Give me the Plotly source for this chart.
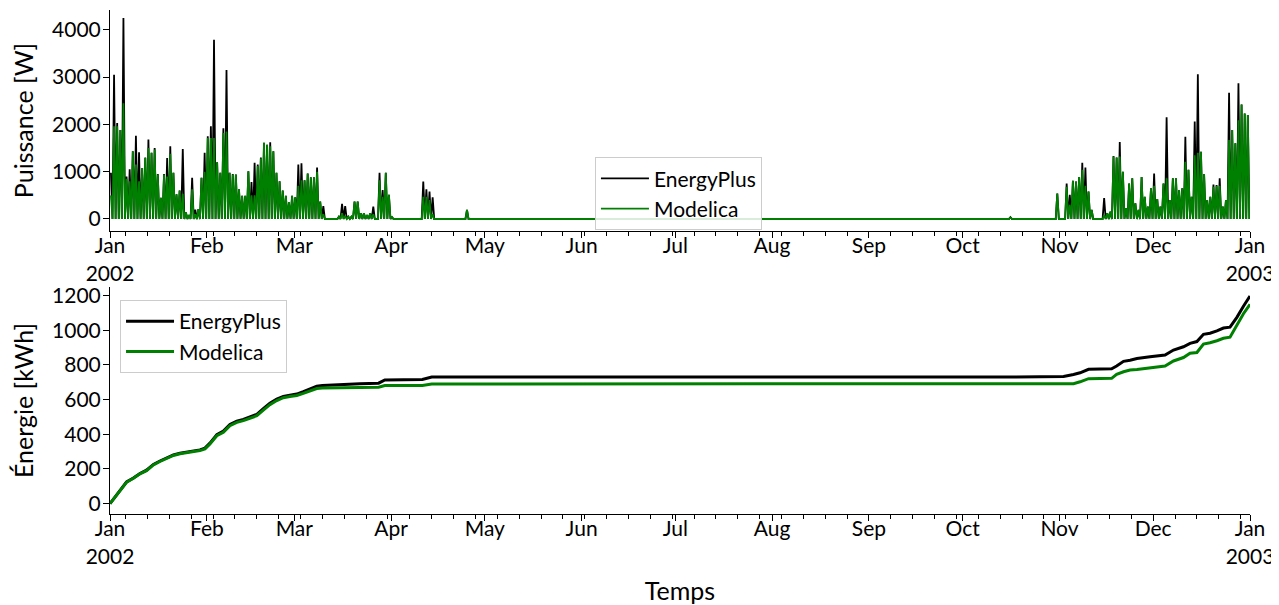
import pandas as pd
import plotly.graph_objects as go
from plotly.subplots import make_subplots

START = pd.Timestamp("2002-01-01")

# ---- heating power: daily peak values [W] ----
# winter season: one value per day from Jan 1 (day 0) to Apr 25 (day 114)
winter_first_day = 0
ep_peak_winter = [
    980, 3050, 2030, 1880, 4250, 900, 1050, 1430, 1760, 1410,
    1080, 1300, 1680, 1400, 1500, 950, 450, 950, 1290, 1540,
    980, 520, 600, 1480, 140, 80, 870, 200, 210, 870,
    1400, 1750, 1960, 3790, 1200, 980, 1920, 3150, 980, 950,
    940, 630, 490, 490, 1010, 780, 1190, 1150, 1300, 1610,
    1570, 1620, 1430, 980, 800, 600, 490, 350, 490, 460,
    1150, 1180, 820, 960, 880, 880, 1090, 370, 275, 0,
    0, 0, 0, 50, 320, 275, 50, 50, 370, 370,
    120, 120, 80, 120, 260, 0, 980, 610, 980, 510,
    40, 0, 0, 0, 0, 0, 0, 0, 0, 0,
    790, 630, 580, 460, 0, 0, 0, 0, 0, 0,
    0, 0, 0, 0, 190,
]
mo_peak_winter = [
    500, 1960, 1960, 1880, 2450, 850, 800, 1430, 1150, 800,
    1080, 1290, 1500, 1400, 1470, 940, 450, 940, 900, 1380,
    980, 520, 600, 530, 140, 80, 630, 100, 210, 870,
    1000, 1710, 1710, 1710, 1200, 980, 1820, 1850, 980, 940,
    940, 630, 490, 490, 1010, 500, 500, 1120, 1280, 1610,
    1570, 1540, 1430, 980, 800, 600, 490, 350, 490, 460,
    700, 820, 820, 960, 880, 880, 1000, 370, 100, 0,
    0, 0, 0, 50, 120, 60, 50, 50, 370, 370,
    120, 120, 80, 120, 100, 0, 820, 470, 980, 510,
    40, 0, 0, 0, 0, 0, 0, 0, 0, 0,
    470, 470, 400, 100, 0, 0, 0, 0, 0, 0,
    0, 0, 0, 0, 190,
]
# autumn season: one value per day from Oct 15 (day 287) to Dec 31 (day 364)
autumn_first_day = 287
ep_peak_autumn = [
    0, 40, 0, 0, 0, 0, 0, 0, 0, 0, 0, 0, 0, 0, 0, 0,
    540, 0, 0, 750, 510, 810, 790, 890, 1190, 1090,
    580, 190, 0, 0, 0, 440, 120, 155, 1330, 1300,
    1630, 1000, 230, 750, 860, 330, 190, 890, 470, 260,
    650, 960, 420, 260, 750, 2150, 400, 860, 860, 610,
    650, 1740, 1040, 470, 2060, 3060, 1420, 950, 400, 470,
    730, 720, 860, 260, 400, 2670, 1880, 1600, 2870, 2420,
    2230, 2200,
]
mo_peak_autumn = [
    0, 30, 0, 0, 0, 0, 0, 0, 0, 0, 0, 0, 0, 0, 0, 0,
    540, 0, 0, 680, 300, 810, 790, 890, 1040, 700,
    580, 190, 0, 0, 0, 85, 120, 155, 1320, 1300,
    1320, 1000, 230, 750, 860, 330, 190, 890, 470, 260,
    650, 700, 420, 260, 750, 860, 400, 860, 860, 610,
    650, 1210, 1040, 470, 1350, 1400, 1420, 950, 400, 470,
    680, 700, 700, 260, 400, 1670, 1880, 1600, 2090, 2420,
    2230, 2200,
]
power_trough = 0  # between the daily peaks the power falls back to 0 W

# ---- cumulative energy [kWh] ----
energy_day = [0, 1.6, 3.2, 5.3, 7.5, 9.6, 11.7, 13.9, 16, 18.1, 20.3, 22.4,
              24.5, 26.7, 28.8, 30.4, 32, 34.2, 36.3, 38.4, 40.6, 42.7, 44.8,
              47, 49.1, 51.2, 53.4, 55.5, 57.6, 59.8, 61.9, 64, 66.2, 68, 74,
              80, 86, 88, 100, 103, 290, 303, 305.3, 308.5, 310.6, 313.3,
              320.7, 322.3, 324.5, 326.6, 328.8, 333, 335.2, 337.8, 340.5,
              343.7, 345.8, 348, 350.1, 352.2, 354.4, 356.5, 358.6, 360.8,
              362.9, 365]
ep_energy = [0, 37, 76, 125, 148, 174, 193, 226, 246, 261, 281, 291, 298, 304,
             310, 320, 349, 398, 418, 457, 476, 486, 499, 515, 548, 579, 603,
             619, 626, 632, 646, 661, 677, 681, 688, 692, 695, 714, 716, 730,
             730, 730, 734, 745, 755, 775, 778, 794, 821, 827, 837, 847, 853,
             857, 886, 905, 925, 935, 977, 983, 997, 1013, 1018, 1075, 1139,
             1198]
mo_energy = [0, 36, 75, 123, 146, 172, 190, 223, 243, 258, 278, 288, 295, 300,
             306, 316, 344, 392, 412, 450, 469, 479, 492, 507, 540, 571, 595,
             611, 618, 624, 636, 650, 664, 667, 668, 671, 672, 681, 682, 690,
             690, 690, 690, 692, 703, 721, 723, 746, 761, 771, 774, 784, 788,
             794, 823, 843, 868, 872, 921, 928, 940, 954, 960, 1028, 1096,
             1150]

month_ticks = ["2002-01-01", "2002-02-01", "2002-03-01", "2002-04-01",
               "2002-05-01", "2002-06-01", "2002-07-01", "2002-08-01",
               "2002-09-01", "2002-10-01", "2002-11-01", "2002-12-01",
               "2003-01-01"]
month_labels = ["Jan<br>2002", "Feb", "Mar", "Apr", "May", "Jun", "Jul",
                "Aug", "Sep", "Oct", "Nov", "Dec", "Jan<br>2003"]

power_ticks = [0, 1000, 2000, 3000, 4000]
energy_ticks = [0, 200, 400, 600, 800, 1000, 1200]


def to_dates(days):
    return START + pd.to_timedelta(days, unit="D")


def power_series(winter, autumn):
    days, vals = [], []
    for first, peaks in ((winter_first_day, winter), (autumn_first_day, autumn)):
        for i, p in enumerate(peaks):
            days += [first + i + 0.3, first + i + 0.8]
            vals += [p, power_trough]
    return to_dates(days), vals


FONT = "Lato"
BLACK = "#000000"
GREEN = "#008000"

fig = make_subplots(rows=2, cols=1, vertical_spacing=0.11)

x, y = power_series(ep_peak_winter, ep_peak_autumn)
fig.add_trace(go.Scatter(x=x, y=y, mode="lines", name="EnergyPlus",
                         line=dict(color=BLACK, width=1.8), legend="legend"),
              row=1, col=1)
x, y = power_series(mo_peak_winter, mo_peak_autumn)
fig.add_trace(go.Scatter(x=x, y=y, mode="lines", name="Modelica",
                         line=dict(color=GREEN, width=1.8), legend="legend"),
              row=1, col=1)

fig.add_trace(go.Scatter(x=to_dates(energy_day), y=ep_energy, mode="lines",
                         name="EnergyPlus", line=dict(color=BLACK, width=3),
                         legend="legend2"), row=2, col=1)
fig.add_trace(go.Scatter(x=to_dates(energy_day), y=mo_energy, mode="lines",
                         name="Modelica", line=dict(color=GREEN, width=3),
                         legend="legend2"), row=2, col=1)

axis_common = dict(showline=True, linecolor="black", linewidth=1,
                   ticks="outside", ticklen=6, tickwidth=1, tickcolor="black",
                   showgrid=False, zeroline=False, automargin=False,
                   tickfont=dict(family=FONT, size=21, color="black"))

for r in (1, 2):
    fig.update_xaxes(range=["2002-01-01", "2003-01-01"],
                     tickmode="array", tickvals=month_ticks,
                     ticktext=month_labels, ticklabelstandoff=-10,
                     minor=dict(ticks="outside", ticklen=3.5, tickwidth=1,
                                tickcolor="black", tick0="2002-01-06",
                                dtick=7 * 86400000, showgrid=False),
                     row=r, col=1, **axis_common)

fig.update_xaxes(title=dict(text="Temps", font=dict(family=FONT, size=25),
                            standoff=16), row=2, col=1)

fig.update_yaxes(range=[-254, 4420], tickmode="array", tickvals=power_ticks,
                 ticklabelstandoff=-2,
                 title=dict(text="Puissance [W]",
                            font=dict(family=FONT, size=25), standoff=12),
                 row=1, col=1, **axis_common)
fig.update_yaxes(range=[-60, 1250], tickmode="array", tickvals=energy_ticks,
                 ticklabelstandoff=-2,
                 title=dict(text="Énergie [kWh]",
                            font=dict(family=FONT, size=25), standoff=12),
                 row=2, col=1, **axis_common)

# place the subplots exactly
fig.update_layout(
    xaxis=dict(domain=[0, 1]), xaxis2=dict(domain=[0, 1]),
    yaxis=dict(domain=[0.5615, 1.0]), yaxis2=dict(domain=[0.0, 0.4504]),
)

legend_common = dict(font=dict(family=FONT, size=21, color="black"),
                     bgcolor="rgba(255,255,255,0.85)", bordercolor="#cccccc",
                     borderwidth=1, itemwidth=48, tracegroupgap=0)

# the page body adds an 8 px offset, so the figure is 8 px smaller
fig.update_layout(
    width=1271, height=597,
    margin=dict(l=102, r=29, t=2, b=91, autoexpand=False),
    paper_bgcolor="white", plot_bgcolor="white",
    font=dict(family=FONT, size=21, color="black"),
    showlegend=True,
    legend=dict(x=0.4254, y=0.708, xanchor="left", yanchor="top",
                **legend_common),
    legend2=dict(x=0.0088, y=0.4246, xanchor="left", yanchor="top",
                 **legend_common),
)

fig.write_html("out.html")
